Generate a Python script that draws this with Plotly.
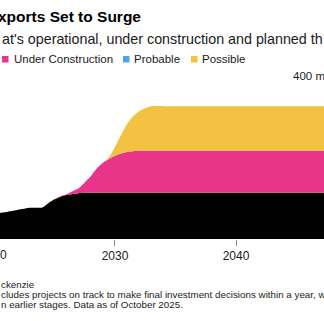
import plotly.graph_objects as go

# Export capacity by project status, million tons per year
years = [2020, 2021, 2022, 2023, 2024, 2024.5, 2025, 2025.5, 2026, 2026.5,
         2027, 2027.5, 2028, 2028.5, 2029, 2029.5, 2030, 2030.5, 2031, 2031.5,
         2032, 2032.5, 2033, 2034, 2035, 2040, 2045, 2050]
operational = [65, 70, 76, 81, 82, 93, 103, 110, 114, 117,
               119, 120, 120, 120, 120, 120, 120, 120, 120, 120,
               120, 120, 120, 120, 120, 120, 120, 120]
under_construction = [0, 0, 0, 0, 0, 0, 0, 1, 2, 7,
                      13, 27, 43, 63, 78, 88, 96, 102, 106, 108,
                      109, 109, 109, 109, 109, 109, 109, 109]
probable = [0] * len(years)
possible = [0, 0, 0, 0, 0, 0, 0, 0, 0, 0,
            0, 0, 0, 0, 0, 4, 23, 48, 73, 91,
            103, 111, 116, 116, 116, 116, 116, 116]

series_names = ["Operational", "Under Construction", "Probable", "Possible"]
series_colors = ["#000000", "#E8358A", "#4DA6EA", "#F3C243"]
series_values = [operational, under_construction, probable, possible]

x_tick_vals = [2020, 2030, 2040]
x_range = [2020.5, 2047.27]
y_range = [0, 400]

W, H = 324, 321
M_L, M_R, M_T, M_B = 0, 0, 85, 82
PLOT_H = H - M_T - M_B

fig = go.Figure()
for name, color, vals in zip(series_names, series_colors, series_values):
    fig.add_trace(go.Scatter(
        x=years, y=vals, name=name, mode="lines",
        stackgroup="one", line=dict(width=0, color=color, shape="spline", smoothing=0.4),
        fillcolor=color, showlegend=False, hoverinfo="skip",
    ))

FONT = "Liberation Sans, Arial, Helvetica, sans-serif"


def px_x(px):
    return (px - M_L) / (W - M_L - M_R)


def px_y(py):
    return (H - M_B - py) / PLOT_H


def year_to_paper(yr):
    return (yr - x_range[0]) / (x_range[1] - x_range[0])


annotations = [
    dict(text="<b>xports Set to Surge</b>", x=px_x(-3), y=px_y(16.5),
         font=dict(size=15.5, color="#000000")),
    dict(text="at's operational, under construction and planned th", x=px_x(0.5), y=px_y(38.5),
         font=dict(size=14.3, color="#1a1a1a")),
    dict(text="ckenzie", x=px_x(0), y=px_y(284),
         font=dict(size=9.8, color="#222222")),
    dict(text="cludes projects on track to make final investment decisions within a year, w",
         x=px_x(0), y=px_y(294.5), font=dict(size=9.8, color="#222222")),
    dict(text="n earlier stages. Data as of October 2025.", x=px_x(0), y=px_y(304.5),
         font=dict(size=9.8, color="#222222")),
    dict(text="400 million tons", x=px_x(292), y=px_y(76),
         font=dict(size=11.5, color="#1a1a1a")),
    # first year label sits just left of the visible range
    dict(text="2020", x=year_to_paper(2020), y=px_y(255), xanchor="center",
         font=dict(size=12, color="#1a1a1a")),
]

legend_items = [("Under Construction", series_colors[1], 2, 13),
                ("Probable", series_colors[2], 123, 133),
                ("Possible", series_colors[3], 191, 201)]
shapes = []
for label, color, sq_x, tx_x in legend_items:
    shapes.append(dict(type="rect", xref="paper", yref="paper",
                       x0=px_x(sq_x), x1=px_x(sq_x + 6.5),
                       y0=px_y(62.5), y1=px_y(56), fillcolor=color, line=dict(width=0)))
    annotations.append(dict(text=label, x=px_x(tx_x), y=px_y(59),
                            font=dict(size=11.5, color="#1a1a1a")))

for a in annotations:
    a.setdefault("xanchor", "left")
    a.update(xref="paper", yref="paper", yanchor="middle", showarrow=False,
             align="left", borderpad=0)
    a["font"]["family"] = FONT

fig.update_layout(
    width=W, height=H,
    margin=dict(l=M_L, r=M_R, t=M_T, b=M_B, pad=0),
    paper_bgcolor="white", plot_bgcolor="white",
    font=dict(family=FONT, color="#1a1a1a"),
    showlegend=False,
    annotations=annotations,
    shapes=shapes,
    xaxis=dict(range=x_range, tickvals=x_tick_vals, ticktext=[str(v) for v in x_tick_vals],
               ticks="outside", ticklen=6, tickwidth=1, tickcolor="#8a8a8a",
               showgrid=False, zeroline=False, showline=False,
               tickfont=dict(size=12, color="#1a1a1a", family=FONT), fixedrange=True),
    yaxis=dict(range=y_range, visible=False, showgrid=False, fixedrange=True),
)

fig.write_html("out.html", config={"displayModeBar": False})
